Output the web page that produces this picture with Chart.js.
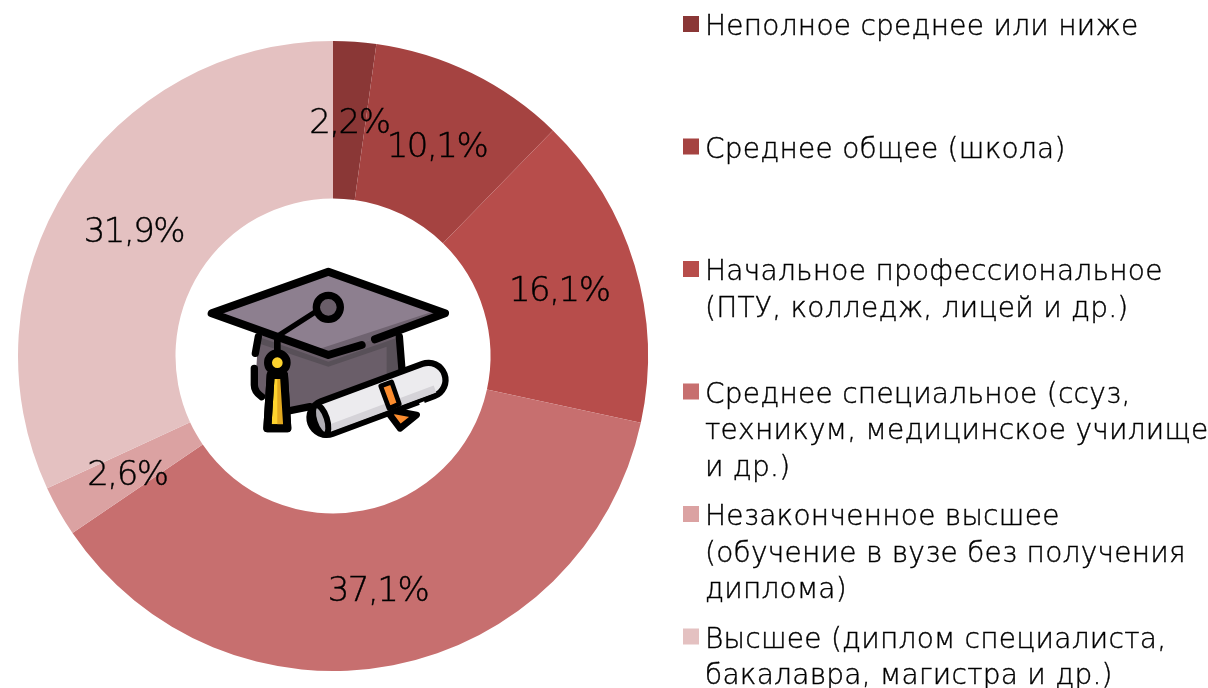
<!DOCTYPE html>
<html lang="ru"><head><meta charset="utf-8">
<style>html,body{margin:0;padding:0;background:#fff;overflow:hidden}
#c{position:absolute;left:0;top:0}#icon{position:absolute;left:190px;top:250px}</style>
<script src="https://cdn.jsdelivr.net/npm/chart.js@4"></script></head><body>
<canvas id="c" width="1208" height="688"></canvas>
<svg id="icon" width="280" height="200" viewBox="0 0 840 600" fill="none" stroke-linecap="round" stroke-linejoin="round">
<path d="M205 255H630V370L360 470 300 482 195 420Z" fill="#6a5e69"/>
<path d="M205 260 415 335 630 260V370L590 385V290L415 350 205 280Z" fill="#585058"/>
<path d="M205 260 196 310M193 355V405Q193 425 215 440M628 260 636 360M300 482 360 470" stroke="#000" stroke-width="22"/>
<path d="M415 65 765 190 415 315 65 190Z" fill="#8d7f8f"/>
<path d="M385 298 750 178 765 190 415 315Z" fill="#6f6370"/>
<path d="M515 285 415 315 65 190 415 65 765 190 555 268" stroke="#000" stroke-width="24"/>
<path d="M260 260 385 180" stroke="#000" stroke-width="16"/>
<circle cx="415" cy="172" r="36" fill="#6a5e69" stroke="#000" stroke-width="22"/>
<path d="M262 265V310" stroke="#000" stroke-width="20"/>
<path d="M600 480 680 495 630 535 600 495Z" fill="#fb8c2e" stroke="#000" stroke-width="20"/>
<path d="M242 375H282L292 535H232Z" fill="#fdd32e" stroke="#000" stroke-width="24"/>
<path d="M262 380H282L292 530H262Z" fill="#e3a91f"/>
<path d="M242 375H282L292 535H232Z" stroke="#000" stroke-width="24"/>
<circle cx="262" cy="338" r="28" fill="#fdd32e" stroke="#000" stroke-width="24"/>
<path d="M410 503 715 390" stroke="#000" stroke-width="122"/>
<path d="M410 503 715 390" stroke="#ecebee" stroke-width="84"/>
<path d="M418 535 735 417" stroke="#d5d3d8" stroke-width="22" stroke-linecap="butt"/>
<path d="M572 408 605 396 628 462 597 475Z" fill="#fb8c2e" stroke="#000" stroke-width="14"/>
<path d="M690 466 705 460" stroke="#fff" stroke-width="14" stroke-linecap="butt"/>
<ellipse cx="392" cy="510" rx="19" ry="46" transform="rotate(-18 392 510)" fill="#b0aeb5" stroke="#000" stroke-width="18"/>
</svg>
<script>
const categories = [
  ["Неполное среднее или ниже"],
  ["Среднее общее (школа)"],
  ["Начальное профессиональное","(ПТУ, колледж, лицей и др.)"],
  ["Среднее специальное (ссуз,","техникум, медицинское училище","и др.)"],
  ["Незаконченное высшее","(обучение в вузе без получения","диплома)"],
  ["Высшее (диплом специалиста,","бакалавра, магистра и др.)"]
];
const values = [2.2, 10.1, 16.1, 37.1, 2.6, 31.9];
const colors = ["#8a3736","#a54341","#b74d4b","#c76f6f","#dba2a2","#e4c1c1"];
const FONT = '"DejaVu Sans", sans-serif';
const labelsPlugin = {
  id:'labels',
  afterDatasetsDraw(chart){
    const ctx = chart.ctx, meta = chart.getDatasetMeta(0);
    ctx.save();
    ctx.fillStyle='#000'; ctx.strokeStyle='#000'; ctx.lineWidth=0.4;
    ctx.textAlign='center'; ctx.textBaseline='middle';
    ctx.font='200 34px '+FONT; ctx.letterSpacing='-1.5px';
    meta.data.forEach((el,i)=>{
      const p = el.getCenterPoint();
      const t = values[i].toFixed(1).replace('.',',')+'%';
      ctx.fillText(t, p.x, p.y+4);
      ctx.strokeText(t, p.x, p.y+4);
    });
    ctx.restore();
  }
};
const legendPlugin = {
  id:'sideLegend',
  afterDraw(chart){
    const ctx = chart.ctx;
    const firstBaseline = 35, step = 122.5, lineH = 36.6;
    ctx.save();
    ctx.textAlign='left'; ctx.textBaseline='alphabetic';
    ctx.font='200 28px '+FONT; ctx.letterSpacing='0.25px';
    ctx.strokeStyle='#000'; ctx.lineWidth=0.4;
    categories.forEach((lines,i)=>{
      const b = firstBaseline + step*i;
      ctx.fillStyle=colors[i];
      ctx.fillRect(683, b-19, 16, 16);
      ctx.fillStyle='#000';
      lines.forEach((t,j)=>{
        ctx.fillText(t, 705, b + j*lineH);
        ctx.strokeText(t, 705, b + j*lineH);
      });
    });
    ctx.restore();
  }
};
new Chart(document.getElementById('c'),{
  type:'doughnut',
  data:{labels:categories.map(c=>c.join(' ')),datasets:[{data:values,backgroundColor:colors,borderWidth:0}]},
  options:{
    responsive:false,animation:false,cutout:'50%',
    layout:{padding:{left:18,top:41,right:560,bottom:17}},
    plugins:{legend:{display:false},tooltip:{enabled:false}}
  },
  plugins:[labelsPlugin,legendPlugin]
});
</script></body></html>
